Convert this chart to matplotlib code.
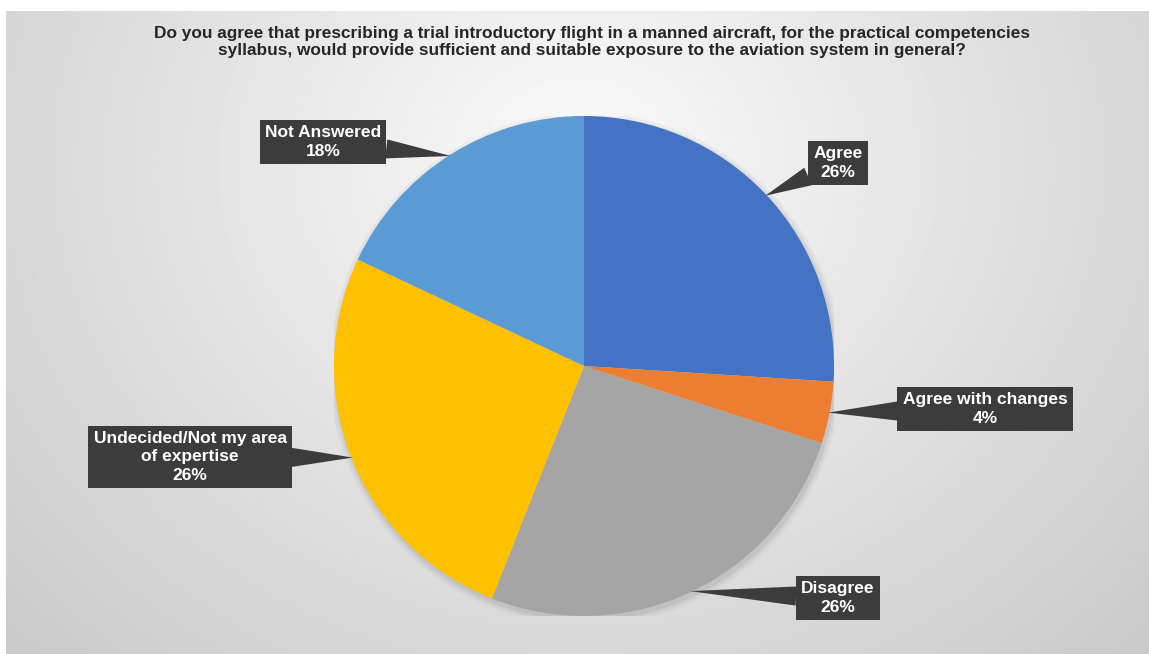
import numpy as np
import matplotlib
matplotlib.use("Agg")
import matplotlib.pyplot as plt
from matplotlib.patches import Circle

plt.rcParams["font.family"] = ["Liberation Sans", "DejaVu Sans"]

# ── data ────────────────────────────────────────────────────
categories = ["Agree", "Agree with changes", "Disagree",
              "Undecided/Not my area\nof expertise", "Not Answered"]
shares = [26, 4, 26, 26, 18]
colors = ["#4472C4", "#ED7D31", "#A5A5A5", "#FFC000", "#5B9BD5"]
title = ("Do you agree that prescribing a trial introductory flight in a manned aircraft, for the practical competencies\n"
         "syllabus, would provide sufficient and suitable exposure to the aviation system in general?")

# label box centres, pixel coords (layout only)
label_px = [(838, 163), (985, 409), (838, 598), (190, 457), (323, 142)]

W, H = 1149, 654
fig = plt.figure(figsize=(W / 100, H / 100), dpi=100, facecolor="white")

# ── background: soft radial gradient ──────────────────────
bg = fig.add_axes([6 / W, 0, 1 - 6 / W, 1 - 11 / H])
bg.axis("off")
yy, xx = np.mgrid[0:300, 0:600]
cx, cy = 300, 70
d = np.sqrt(((xx - cx) / 420.0) ** 2 + ((yy - cy) / 330.0) ** 2)
shade = np.clip(0.98 - 0.19 * d, 0.76, 1.0)
bg.imshow(shade, cmap="gray", vmin=0, vmax=1, aspect="auto",
          extent=[0, 1, 0, 1], origin="upper")
bg.set_xlim(0, 1)
bg.set_ylim(0, 1)

# ── pie ─────────────────────────────────────────────────────
cx_px, cy_px, r_px = 584, 366, 250
ax = fig.add_axes([(cx_px - r_px) / W, (H - cy_px - r_px) / H,
                   2 * r_px / W, 2 * r_px / H])
ax.patch.set_alpha(0)

# faint drop shadow under the pie
for k, a in [(1.025, 0.03), (1.015, 0.04), (1.006, 0.05)]:
    ax.add_patch(Circle((0.006, -0.012), k, fc="black", ec="none", alpha=a,
                        zorder=0))

wedges, _ = ax.pie(shares, colors=colors, startangle=90, counterclock=False,
                   radius=1, wedgeprops=dict(edgecolor="none", zorder=1))
ax.set_xlim(-1, 1)
ax.set_ylim(-1, 1)
ax.set_aspect("equal")
ax.axis("off")

box_color = "#3c3c3c"
for w, cat, val, (px, py) in zip(wedges, categories, shares, label_px):
    mid = np.deg2rad((w.theta1 + w.theta2) / 2)
    tip = (np.cos(mid) * 0.995, np.sin(mid) * 0.995)
    lx = (px - cx_px) / r_px
    ly = (cy_px - py) / r_px
    ax.annotate(f"{cat}\n{val}%", xy=tip, xytext=(lx, ly),
                ha="center", va="center", fontsize=12.5, fontweight="bold",
                color="white", linespacing=1.28, annotation_clip=False,
                bbox=dict(boxstyle="square,pad=0.3", fc=box_color, ec="none"),
                arrowprops=dict(arrowstyle="wedge,tail_width=1.1,shrink_factor=0.5",
                                fc=box_color, ec="none", shrinkA=0, shrinkB=0))

fig.text(592 / W, 1 - 42 / H, title, ha="center", va="center",
         fontsize=12.4, fontweight="bold", color="#262626", linespacing=1.15)

fig.savefig("out.png", dpi=100, facecolor="white")
